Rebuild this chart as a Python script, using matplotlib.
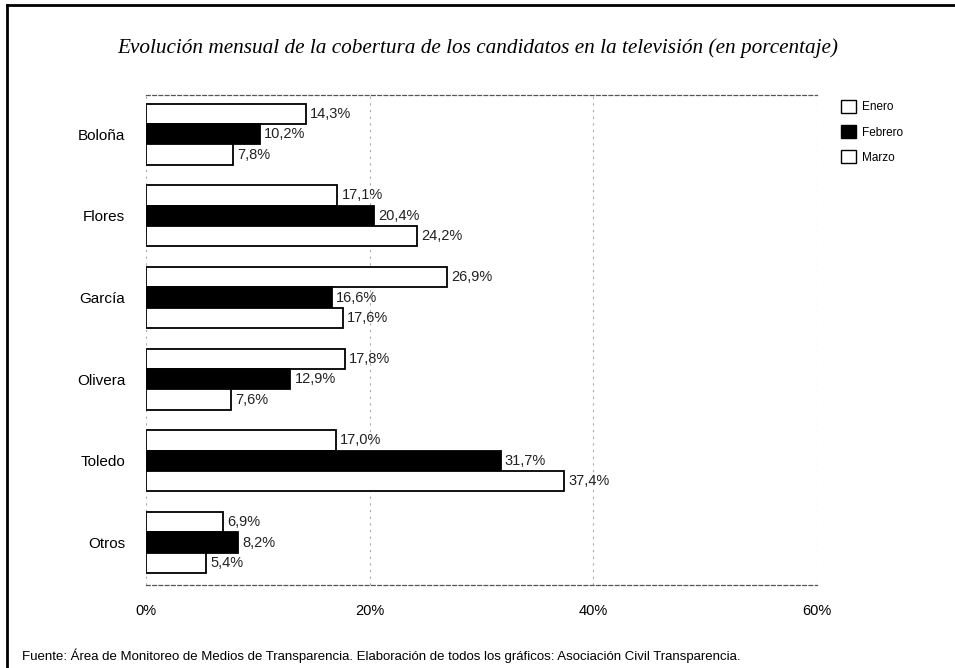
import numpy as np
import matplotlib
matplotlib.use("Agg")
import matplotlib.pyplot as plt
from matplotlib.lines import Line2D
from matplotlib.patches import Patch

# datos del grafico
candidatos = ["Boloña", "Flores", "García", "Olivera", "Toledo", "Otros"]
meses = ["Enero", "Febrero", "Marzo"]
enero = [14.3, 17.1, 26.9, 17.8, 17.0, 6.9]
febrero = [10.2, 20.4, 16.6, 12.9, 31.7, 8.2]
marzo = [7.8, 24.2, 17.6, 7.6, 37.4, 5.4]
xticks = [0, 20, 40, 60]
xlabels = ["0%", "20%", "40%", "60%"]

titulo = "Evolución mensual de la cobertura de los candidatos en la televisión (en porcentaje)"
fuente = ("Fuente: Área de Monitoreo de Medios de Transparencia. "
          "Elaboración de todos los gráficos: Asociación Civil Transparencia.")

plt.rcParams["font.family"] = ["Liberation Sans", "DejaVu Sans"]

fig = plt.figure(figsize=(9.55, 6.68), dpi=100)
ax = fig.add_axes([0.1529, 0.1243, 0.7026, 0.7335])

y = np.arange(len(candidatos))
h = 0.25
series = [(enero, "white"), (febrero, "black"), (marzo, "white")]
for i, (vals, color) in enumerate(series):
    pos = y + (i - 1) * h
    ax.barh(pos, vals, height=h, color=color, edgecolor="black",
            linewidth=1.3, zorder=3)
    for p, v in zip(pos, vals):
        ax.annotate(f"{v:.1f}%".replace(".", ","), (v, p),
                    xytext=(3, 0), textcoords="offset points",
                    ha="left", va="center", fontsize=10.5, color="#222222")

ax.set_ylim(len(candidatos) - 0.5 + 0.02, -0.5 + 0.02)
ax.set_xlim(0, 60)
ax.set_yticks(y)
ax.set_yticklabels(candidatos, fontsize=11)
ax.set_xticks(xticks)
ax.set_xticklabels(xlabels, fontsize=10.5)
ax.tick_params(axis="y", length=0, pad=15)
ax.tick_params(axis="x", length=0, pad=14)

ax.grid(axis="x", linestyle=(0, (2, 4)), color="#aaaaaa", linewidth=0.8, zorder=0)
ax.spines["left"].set_visible(False)
ax.spines["right"].set_visible(False)
for s in ["top", "bottom"]:
    ax.spines[s].set_linestyle((0, (3, 2)))
    ax.spines[s].set_color("#555555")
    ax.spines[s].set_linewidth(0.9)

fig.text(0.5, 0.928, titulo, ha="center", va="center", fontsize=15.3,
         style="italic", family=["Liberation Serif", "DejaVu Serif"])

handles = [Patch(facecolor=c, edgecolor="black", linewidth=1.0) for _, c in series]
fig.legend(handles, meses, loc="upper left", bbox_to_anchor=(0.874, 0.859),
           frameon=False, borderpad=0, handlelength=1.3, handleheight=1.3,
           handletextpad=0.5, labelspacing=1.0,
           prop={"family": ["Liberation Sans Narrow", "Liberation Sans"], "size": 8.5})

fig.text(0.023, 0.019, fuente, ha="left", va="center", fontsize=9.5,
         family=["Liberation Sans Narrow", "Liberation Sans"])

# marco del recorte
fig.add_artist(Line2D([7 / 955, 7 / 955], [1 - 5 / 668, 0], transform=fig.transFigure,
                      color="black", linewidth=2))
fig.add_artist(Line2D([7 / 955, 1], [1 - 5 / 668, 1 - 5 / 668], transform=fig.transFigure,
                      color="black", linewidth=2))

fig.savefig("out.png", dpi=100)
